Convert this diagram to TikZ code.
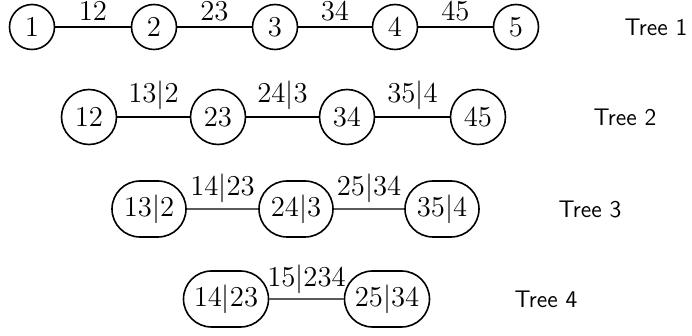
\documentclass[tikz,border=0pt]{standalone}
\usetikzlibrary{shapes.misc}
\begin{document}
\begin{tikzpicture}[x=0.5pt, y=-0.5pt, font=\fontsize{14.5pt}{17pt}\selectfont,
    tnode/.style={draw, thick, circle, inner sep=0pt, minimum size=22.5pt},
    bnode/.style={draw, thick, circle, inner sep=0pt, minimum size=27.5pt},
    rnode/.style={draw, thick, rounded rectangle, inner sep=0pt, minimum height=28pt},
    tlabel/.style={font=\sffamily\large}]
    \useasboundingbox (0,0) rectangle (692,336);
    % Tree 1
    \node[tnode] (n1) at (32,27) {$1$};
    \node[tnode] (n2) at (154,27) {$2$};
    \node[tnode] (n3) at (275,27) {$3$};
    \node[tnode] (n4) at (395,27) {$4$};
    \node[tnode] (n5) at (516,27) {$5$};
    \draw[thick] (n1) -- node[above, inner sep=3pt] {$12$} (n2);
    \draw[thick] (n2) -- node[above, inner sep=3pt] {$23$} (n3);
    \draw[thick] (n3) -- node[above, inner sep=3pt] {$34$} (n4);
    \draw[thick] (n4) -- node[above, inner sep=3pt] {$45$} (n5);
    \node[tlabel] (t1) at (656,27) {Tree 1};
    % Tree 2
    \node[bnode] (m12) at (89,117) {$12$};
    \node[bnode] (m23) at (218,117) {$23$};
    \node[bnode] (m34) at (347,117) {$34$};
    \node[bnode] (m45) at (478,117) {$45$};
    \draw[line width=1.3pt] (m12) -- node[above, inner sep=3pt] {$13|2$} (m23);
    \draw[line width=1.3pt] (m23) -- node[above, inner sep=3pt] {$24|3$} (m34);
    \draw[line width=1.3pt] (m34) -- node[above, inner sep=3pt] {$35|4$} (m45);
    \node[tlabel] (t2) at (625,117) {Tree 2};
    % Tree 3
    \node[rnode, minimum width=37pt] (k13) at (149,209) {$13|2$};
    \node[rnode, minimum width=37pt] (k24) at (296,209) {$24|3$};
    \node[rnode, minimum width=37pt] (k35) at (442,209) {$35|4$};
    \draw[semithick] (k13) -- node[above, inner sep=3pt] {$14|23$} (k24);
    \draw[semithick] (k24) -- node[above, inner sep=3pt] {$25|34$} (k35);
    \node[tlabel] (t3) at (590,209) {Tree 3};
    % Tree 4
    \node[rnode, minimum width=42.5pt] (p14) at (226,299) {$14|23$};
    \node[rnode, minimum width=42.5pt] (p25) at (387,299) {$25|34$};
    \draw[semithick] (p14) -- node[above, inner sep=2.5pt] {$15|234$} (p25);
    \node[tlabel] (t4) at (546,299) {Tree 4};
\end{tikzpicture}
\end{document}
